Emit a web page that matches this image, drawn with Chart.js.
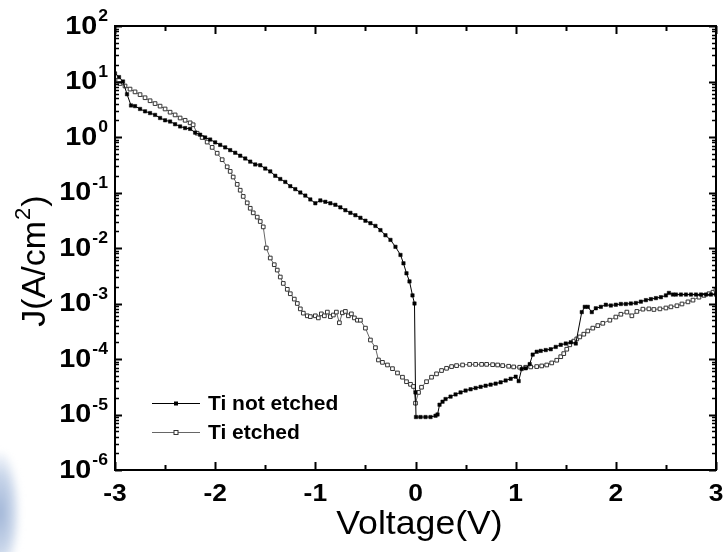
<!DOCTYPE html>
<html>
<head>
<meta charset="utf-8">
<script src="https://cdn.jsdelivr.net/npm/chart.js@4/dist/chart.umd.min.js"></script>
<style>
  html, body { margin: 0; padding: 0; background: #fff; }
  #wrap { position: relative; width: 723px; height: 552px; overflow: hidden; }
  #smudge { position: absolute; left: -14px; top: 452px; width: 34px; height: 110px;
            background: radial-gradient(ellipse at 40% 55%, #9fb4d6 0%, #c9d6ea 45%, rgba(255,255,255,0) 75%);
            filter: blur(3px); }
  canvas { position: absolute; left: 0; top: 0; }
</style>
</head>
<body>
<div id="wrap">
  <div id="smudge"></div>
  <canvas id="c" width="723" height="552"></canvas>
</div>
<script>
// Current density vs. bias voltage for the two Ti contact treatments
const voltageNotEtched = [
  -3.00, -2.96, -2.92, -2.88, -2.84, -2.80, -2.75, -2.70, -2.65, -2.60,
  -2.55, -2.50, -2.45, -2.40, -2.35, -2.30, -2.25, -2.20, -2.15, -2.10,
  -2.05, -2.00, -1.95, -1.90, -1.85, -1.80, -1.75, -1.70, -1.65, -1.60,
  -1.55, -1.50, -1.45, -1.40, -1.35, -1.30, -1.25, -1.20, -1.15, -1.10,
  -1.05, -1.00, -0.95, -0.90, -0.85, -0.80, -0.75, -0.70, -0.65, -0.60,
  -0.55, -0.50, -0.45, -0.40, -0.35, -0.30, -0.25, -0.20, -0.15, -0.12,
  -0.09, -0.06, -0.03, -0.01, 0.00, 0.005, 0.05, 0.10, 0.15, 0.20,
  0.22, 0.24, 0.27, 0.30, 0.35, 0.40, 0.45, 0.50, 0.55, 0.60,
  0.65, 0.70, 0.75, 0.80, 0.85, 0.90, 0.95, 1.00, 1.03, 1.06,
  1.10, 1.14, 1.17, 1.21, 1.25, 1.30, 1.35, 1.40, 1.45, 1.50,
  1.55, 1.60, 1.66, 1.69, 1.72, 1.76, 1.80, 1.85, 1.90, 1.95,
  2.00, 2.05, 2.10, 2.15, 2.20, 2.25, 2.30, 2.35, 2.40, 2.45,
  2.50, 2.53, 2.57, 2.60, 2.65, 2.70, 2.75, 2.80, 2.85, 2.90,
  2.95, 3.00
];
const jNotEtched = [
  14, 12, 10, 5.9, 3.7, 3.6, 3.2, 2.9, 2.7, 2.5,
  2.2, 2.0, 1.9, 1.7, 1.55, 1.45, 1.4, 1.2, 1.1, 0.98,
  0.9, 0.8, 0.72, 0.65, 0.58, 0.52, 0.46, 0.41, 0.36, 0.32,
  0.31, 0.27, 0.24, 0.2, 0.175, 0.155, 0.13, 0.115, 0.1, 0.088,
  0.075, 0.064, 0.072, 0.068, 0.064, 0.06, 0.054, 0.048, 0.043, 0.039,
  0.035, 0.031, 0.028, 0.025, 0.021, 0.017, 0.014, 0.0105, 0.0075, 0.0053,
  0.0035, 0.0025, 0.0014, 0.001, 2.5e-5, 9e-6, 9e-6, 9e-6, 9e-6, 9.5e-6,
  1e-5, 1.5e-5, 1.7e-5, 1.9e-5, 2.1e-5, 2.3e-5, 2.5e-5, 2.7e-5, 2.85e-5, 3e-5,
  3.15e-5, 3.3e-5, 3.45e-5, 3.6e-5, 3.8e-5, 4.1e-5, 4.4e-5, 4.8e-5, 4e-5, 6.6e-5,
  6.8e-5, 8.1e-5, 1.2e-4, 1.35e-4, 1.4e-4, 1.45e-4, 1.5e-4, 1.65e-4, 1.8e-4, 1.9e-4,
  2e-4, 1.9e-4, 7e-4, 8.7e-4, 8.7e-4, 7e-4, 8.2e-4, 8.7e-4, 9.5e-4, 9.2e-4,
  9.5e-4, 9.8e-4, 9.8e-4, 1e-3, 1.02e-3, 1.08e-3, 1.15e-3, 1.2e-3, 1.25e-3, 1.3e-3,
  1.4e-3, 1.55e-3, 1.45e-3, 1.45e-3, 1.45e-3, 1.45e-3, 1.45e-3, 1.45e-3, 1.45e-3, 1.45e-3,
  1.45e-3, 1.45e-3
];

const voltageEtched = [
  -3.00, -2.95, -2.90, -2.85, -2.80, -2.75, -2.70, -2.65, -2.60, -2.55,
  -2.50, -2.45, -2.40, -2.35, -2.30, -2.25, -2.22, -2.18, -2.13, -2.08,
  -2.03, -1.98, -1.93, -1.88, -1.85, -1.82, -1.78, -1.75, -1.72, -1.68,
  -1.65, -1.62, -1.58, -1.55, -1.52, -1.49, -1.45, -1.41, -1.38, -1.35,
  -1.32, -1.28, -1.25, -1.21, -1.18, -1.15, -1.12, -1.08, -1.05, -1.00,
  -0.97, -0.94, -0.91, -0.88, -0.85, -0.82, -0.79, -0.76, -0.73, -0.70,
  -0.67, -0.64, -0.61, -0.58, -0.55, -0.50, -0.45, -0.40, -0.37, -0.33,
  -0.28, -0.23, -0.18, -0.13, -0.09, -0.05, -0.02, 0.00, 0.03, 0.06,
  0.11, 0.16, 0.21, 0.26, 0.31, 0.36, 0.41, 0.47, 0.54, 0.60,
  0.66, 0.71, 0.77, 0.82, 0.87, 0.93, 0.98, 1.04, 1.10, 1.15,
  1.21, 1.26, 1.31, 1.36, 1.41, 1.45, 1.48, 1.51, 1.54, 1.58,
  1.61, 1.64, 1.68, 1.72, 1.77, 1.82, 1.87, 1.94, 2.00, 2.05,
  2.11, 2.16, 2.21, 2.27, 2.33, 2.38, 2.44, 2.50, 2.55, 2.61,
  2.66, 2.72, 2.77, 2.83, 2.88, 2.93, 2.97, 3.00
];
const jEtched = [
  10.5, 9.2, 8.3, 7.3, 6.5, 5.8, 5.1, 4.5, 4.0, 3.6,
  3.2, 2.8, 2.5, 2.2, 2.0, 1.8, 1.66, 1.17, 0.98, 0.81,
  0.65, 0.51, 0.39, 0.29, 0.24, 0.19, 0.14, 0.11, 0.085, 0.065,
  0.052, 0.043, 0.036, 0.030, 0.024, 0.010, 0.0066, 0.005, 0.004, 0.003,
  0.0023, 0.0018, 0.0015, 0.0012, 0.001, 0.0008, 0.00067, 0.0006, 0.00058, 0.0006,
  0.00055, 0.00065, 0.0006, 0.0007, 0.00058, 0.00062, 0.0007, 0.00045, 0.00068, 0.00072,
  0.0006, 0.00065, 0.00055, 0.0005, 0.0005, 0.00036, 0.00022, 0.00016, 0.000096, 0.000087,
  0.000078, 0.000067, 0.000056, 0.000047, 0.000039, 0.000035, 0.000032, 0.000016, 0.000025, 0.000031,
  0.000039, 0.000047, 0.000054, 0.000062, 0.000068, 0.000073, 0.000076, 0.000078, 0.00008, 0.00008,
  0.00008, 0.00008, 0.000079, 0.000078, 0.000076, 0.000074, 0.000072, 0.000071, 0.000071, 0.000072,
  0.000073, 0.000075, 0.000078, 0.000085, 0.000095, 0.00011, 0.000125, 0.00015, 0.00018, 0.00021,
  0.00023, 0.00025, 0.00028, 0.00032, 0.00036, 0.0004, 0.00044, 0.0005, 0.00057, 0.00064,
  0.0007, 0.0006, 0.00072, 0.00079, 0.0008, 0.00078, 0.0008, 0.00083, 0.00087, 0.00091,
  0.00098, 0.00107, 0.00115, 0.0013, 0.0014, 0.0015, 0.0016, 0.00175
];

const seriesNames = ['Ti not etched', 'Ti etched'];
const xTickValues = [-3, -2, -1, 0, 1, 2, 3];
const yDecadeExponents = [-6, -5, -4, -3, -2, -1, 0, 1, 2];
const xTitle = 'Voltage(V)';
const yTitleMain = 'J(A/cm';
const yTitleSup = '2';
const yTitleEnd = ')';

const toPoints = (vs, js) => vs.map((v, i) => ({ x: v, y: js[i] }));

const FONT = '"Liberation Sans", Arial, Helvetica, sans-serif';

function stretchedText(ctx, str, x, y, font, align, sx) {
  ctx.save();
  ctx.translate(x, y);
  ctx.scale(sx, 1);
  ctx.font = font;
  ctx.textAlign = align;
  ctx.textBaseline = 'middle';
  ctx.fillText(str, 0, 0);
  ctx.restore();
}

// Frame, inward ticks, tick labels, axis titles and legend
const axesPlugin = {
  id: 'axesFrame',
  afterDraw(chart) {
    const { ctx, chartArea: a, scales: { x, y } } = chart;
    ctx.save();
    ctx.strokeStyle = '#000';
    ctx.fillStyle = '#000';

    // x ticks (major at integers, minor at halves) on bottom and top
    ctx.lineWidth = 2;
    for (let v = -3; v <= 3.001; v += 0.5) {
      const px = Math.round(x.getPixelForValue(v)) + 0.5;
      const major = Math.abs(v - Math.round(v)) < 1e-6;
      const len = major ? 8 : 5;
      ctx.beginPath();
      ctx.moveTo(px, a.bottom); ctx.lineTo(px, a.bottom - len);
      ctx.moveTo(px, a.top); ctx.lineTo(px, a.top + len);
      ctx.stroke();
    }
    // y ticks (decades and 2..9 minors) on left and right
    for (const e of yDecadeExponents) {
      for (let m = 1; m <= 9; m++) {
        if (e === 2 && m > 1) break;
        const py = Math.round(y.getPixelForValue(m * Math.pow(10, e))) + 0.5;
        const len = m === 1 ? 7 : 4;
        ctx.lineWidth = m === 1 ? 2 : 1.5;
        ctx.beginPath();
        ctx.moveTo(a.left, py); ctx.lineTo(a.left + len, py);
        ctx.moveTo(a.right, py); ctx.lineTo(a.right - len, py);
        ctx.stroke();
      }
    }
    // frame
    ctx.lineWidth = 2;
    ctx.strokeRect(a.left, a.top, a.right - a.left, a.bottom - a.top);

    // x tick labels
    for (const v of xTickValues) {
      stretchedText(ctx, String(v), x.getPixelForValue(v), a.bottom + 24,
        'bold 24px ' + FONT, 'center', 1.1);
    }
    // y tick labels as 10 with a raised exponent
    for (const e of yDecadeExponents) {
      const py = y.getPixelForValue(Math.pow(10, e));
      const exp = String(e);
      ctx.font = 'bold 16px ' + FONT;
      const ew = ctx.measureText(exp).width * 1.1;
      const right = a.left - 7;
      stretchedText(ctx, exp, right, py - 9, 'bold 16px ' + FONT, 'right', 1.1);
      stretchedText(ctx, '10', right - ew - 1, py + 1, 'bold 25px ' + FONT, 'right', 1.15);
    }

    // x title
    stretchedText(ctx, xTitle, (a.left + a.right) / 2 + 4, 525, '33px ' + FONT, 'center', 1.08);

    // y title, rotated
    ctx.save();
    ctx.translate(36, 262);
    ctx.rotate(-Math.PI / 2);
    ctx.textBaseline = 'middle';
    ctx.font = '34px ' + FONT;
    const w1 = ctx.measureText(yTitleMain).width;
    ctx.font = '22px ' + FONT;
    const w2 = ctx.measureText(yTitleSup).width;
    ctx.font = '34px ' + FONT;
    const w3 = ctx.measureText(yTitleEnd).width;
    let sx = -(w1 + w2 + w3) / 2;
    ctx.textAlign = 'left';
    ctx.fillText(yTitleMain, sx, 0);
    ctx.font = '22px ' + FONT;
    ctx.fillText(yTitleSup, sx + w1 + 1, -12);
    ctx.font = '34px ' + FONT;
    ctx.fillText(yTitleEnd, sx + w1 + w2 + 2, 0);
    ctx.restore();

    // legend
    const rows = [403, 432];
    chart.data.datasets.forEach((ds, i) => {
      const ly = rows[i] + 0.5;
      ctx.strokeStyle = ds.borderColor;
      ctx.lineWidth = 1;
      ctx.beginPath(); ctx.moveTo(152, ly); ctx.lineTo(200, ly); ctx.stroke();
      ctx.fillStyle = ds.pointBackgroundColor;
      ctx.strokeStyle = ds.pointBorderColor;
      ctx.fillRect(174, ly - 2, 4, 4);
      if (i === 1) { ctx.lineWidth = 1; ctx.strokeRect(174, ly - 2, 4, 4); }
      ctx.fillStyle = '#000';
      ctx.font = 'bold 21px ' + FONT;
      ctx.textAlign = 'left';
      ctx.textBaseline = 'middle';
      ctx.fillText(ds.label, 208, rows[i] + 1);
    });
    ctx.restore();
  }
};

new Chart(document.getElementById('c'), {
  type: 'scatter',
  data: {
    datasets: [
      {
        label: seriesNames[0],
        data: toPoints(voltageNotEtched, jNotEtched),
        showLine: true,
        borderColor: '#000',
        borderWidth: 1,
        pointStyle: 'rect',
        pointRadius: 2.4,
        pointBackgroundColor: '#000',
        pointBorderColor: '#000',
        pointBorderWidth: 0.5
      },
      {
        label: seriesNames[1],
        data: toPoints(voltageEtched, jEtched),
        showLine: true,
        borderColor: '#666',
        borderWidth: 1,
        pointStyle: 'rect',
        pointRadius: 2.6,
        pointBackgroundColor: '#fff',
        pointBorderColor: '#333',
        pointBorderWidth: 1
      }
    ]
  },
  options: {
    responsive: false,
    devicePixelRatio: 1,
    animation: false,
    events: [],
    layout: { padding: { left: 0, top: 26, right: 7, bottom: 0 } },
    plugins: { legend: { display: false }, tooltip: { enabled: false } },
    scales: {
      x: {
        type: 'linear', min: -3, max: 3,
        grid: { display: false }, border: { display: false },
        ticks: { display: false },
        afterFit: s => { s.height = 82; }
      },
      y: {
        type: 'logarithmic', min: 1e-6, max: 100,
        grid: { display: false }, border: { display: false },
        ticks: { display: false },
        afterFit: s => { s.width = 115; }
      }
    }
  },
  plugins: [axesPlugin]
});
</script>
</body>
</html>
